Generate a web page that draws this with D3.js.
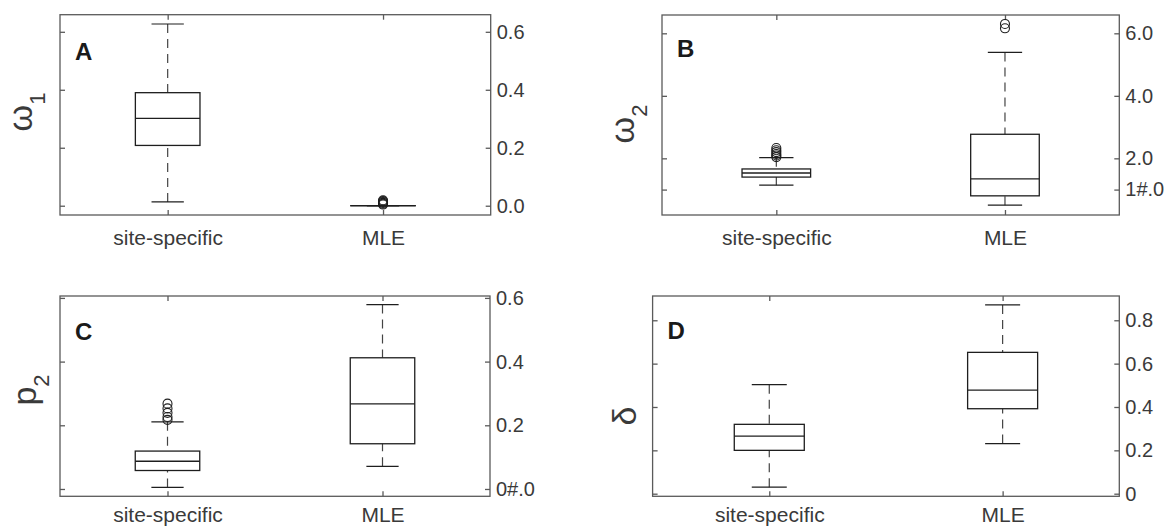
<!DOCTYPE html>
<html>
<head>
<meta charset="utf-8">
<script src="https://cdn.jsdelivr.net/npm/d3@7"></script>
<style>
    body { margin: 0; background: #fff; }
    text { font-family: "Liberation Sans", Arial, Helvetica, sans-serif; }
</style>
</head>
<body>
<div id="chart"></div>
<script>
// 类别
var categories = ["site-specific", "MLE"];

// 每个类别: [下须, Q1, 中位数, Q3, 上须]
var omega1Box = [[0.013, 0.208, 0.301, 0.390, 0.627], [0, 0, 0, 0, 0]];
var omega1Outliers = [[], [0.004, 0.007, 0.010, 0.013, 0.016, 0.019]];
var omega1Ticks = [0, 0.2, 0.4, 0.6];
var omega1TickLabels = ["0.0", "0.2", "0.4", "0.6"];
var omega1Limits = [-0.032, 0.659];

var omega2Box = [[1.14, 1.40, 1.53, 1.66, 2.02], [0.50, 0.80, 1.34, 2.77, 5.39]];
var omega2Outliers = [[2.04, 2.09, 2.14, 2.20, 2.26, 2.33], [6.16, 6.30]];
var omega2Ticks = [1, 2, 4, 6];
var omega2TickLabels = ["1#.0", "2.0", "4.0", "6.0"];
var omega2Limits = [0.187, 6.586];

var p2Box = [[0.005, 0.058, 0.087, 0.119, 0.211], [0.071, 0.142, 0.267, 0.412, 0.579]];
var p2Outliers = [[0.217, 0.226, 0.239, 0.253, 0.268], []];
var p2Ticks = [0, 0.2, 0.4, 0.6];
var p2TickLabels = ["0#.0", "0.2", "0.4", "0.6"];
var p2Limits = [-0.023, 0.606];

var deltaBox = [[0.030, 0.200, 0.266, 0.320, 0.503], [0.231, 0.392, 0.478, 0.652, 0.871]];
var deltaOutliers = [[], []];
var deltaTicks = [0, 0.2, 0.4, 0.6, 0.8];
var deltaTickLabels = ["0", "0.2", "0.4", "0.6", "0.8"];
var deltaLimits = [-0.012, 0.912];

var frameColor = "#5a5a5a";
var boxColor = "#1e1e1e";
var textColor = "#3a3a3a";

var svg = d3.select("#chart")
    .append("svg")
    .attr("width", 1172)
    .attr("height", 527);

function drawPanel(p) {
    var g = svg.append("g");

    var x = d3.scalePoint()
        .domain(categories)
        .range([p.left, p.right])
        .padding(0.5);

    var y = d3.scaleLinear()
        .domain(p.limits)
        .range([p.bottom, p.top]);

    var boxW = (p.right - p.left) * 0.15;
    var capW = boxW / 2;

    // 坐标框
    g.append("rect")
        .attr("x", p.left)
        .attr("y", p.top)
        .attr("width", p.right - p.left)
        .attr("height", p.bottom - p.top)
        .style("fill", "none")
        .style("stroke", frameColor)
        .style("stroke-width", "1.3px");

    var tickLabel = function (d) {
        return p.tickLabels[p.ticks.indexOf(d)];
    };

    // 右侧刻度带标签, 左侧只有刻度
    var yRight = d3.axisRight(y).tickValues(p.ticks).tickSize(-5).tickPadding(6).tickFormat(tickLabel);
    var yLeft = d3.axisLeft(y).tickValues(p.ticks).tickSize(-5).tickFormat("");
    var xBottom = d3.axisBottom(x).tickSize(-5).tickPadding(p.labelPad);
    var xTop = d3.axisTop(x).tickSize(-5).tickFormat("");

    var axes = [
        [yRight, "translate(" + p.right + ",0)"],
        [yLeft, "translate(" + p.left + ",0)"],
        [xBottom, "translate(0," + p.bottom + ")"],
        [xTop, "translate(0," + p.top + ")"]
    ];
    axes.forEach(function (a, i) {
        var ax = g.append("g")
            .attr("transform", a[1])
            .call(a[0]);
        ax.select(".domain").remove();
        ax.selectAll("line").style("stroke", frameColor).style("stroke-width", "1.3px");
        ax.selectAll("text")
            .style("font-family", "'Liberation Sans', Arial, sans-serif")
            .style("font-size", i === 2 ? "21px" : "20px")
            .style("fill", textColor);
    });

    // 箱线图
    var boxes = g.selectAll("g.box")
        .data(p.box)
        .enter()
        .append("g")
        .attr("class", "box");

    // 须线 (虚线)
    boxes.append("line")
        .attr("x1", function (d, i) { return x(categories[i]); })
        .attr("x2", function (d, i) { return x(categories[i]); })
        .attr("y1", function (d) { return y(d[4]); })
        .attr("y2", function (d) { return y(d[3]); })
        .style("stroke", "#444")
        .style("stroke-width", "1.2px")
        .style("stroke-dasharray", "9,6");
    boxes.append("line")
        .attr("x1", function (d, i) { return x(categories[i]); })
        .attr("x2", function (d, i) { return x(categories[i]); })
        .attr("y1", function (d) { return y(d[0]); })
        .attr("y2", function (d) { return y(d[1]); })
        .style("stroke", "#444")
        .style("stroke-width", "1.2px")
        .style("stroke-dasharray", "9,6");

    // 须端横线
    [0, 4].forEach(function (k) {
        boxes.append("line")
            .attr("x1", function (d, i) { return x(categories[i]) - capW / 2; })
            .attr("x2", function (d, i) { return x(categories[i]) + capW / 2; })
            .attr("y1", function (d) { return y(d[k]); })
            .attr("y2", function (d) { return y(d[k]); })
            .style("stroke", boxColor)
            .style("stroke-width", "1.2px");
    });

    // 箱体
    boxes.append("rect")
        .attr("x", function (d, i) { return x(categories[i]) - boxW / 2; })
        .attr("y", function (d) { return y(d[3]); })
        .attr("width", boxW)
        .attr("height", function (d) { return Math.max(y(d[1]) - y(d[3]), 0.01); })
        .style("fill", "none")
        .style("stroke", boxColor)
        .style("stroke-width", "1.3px");

    // 中位数
    boxes.append("line")
        .attr("x1", function (d, i) { return x(categories[i]) - boxW / 2; })
        .attr("x2", function (d, i) { return x(categories[i]) + boxW / 2; })
        .attr("y1", function (d) { return y(d[2]); })
        .attr("y2", function (d) { return y(d[2]); })
        .style("stroke", boxColor)
        .style("stroke-width", "1.3px");

    // 离群点
    p.outliers.forEach(function (list, i) {
        g.selectAll("circle.o" + i)
            .data(list)
            .enter()
            .append("circle")
            .attr("class", "o" + i)
            .attr("cx", x(categories[i]))
            .attr("cy", function (d) { return y(d); })
            .attr("r", 4.5)
            .style("fill", "none")
            .style("stroke", boxColor)
            .style("stroke-width", "1.1px");
    });

    // 面板字母
    g.append("text")
        .attr("x", p.left + 15)
        .attr("y", p.top + p.letterDy)
        .text(p.letter)
        .style("font-size", "24px")
        .style("font-weight", "bold")
        .style("fill", "#1a1a1a");

    // y 轴标题 (竖排)
    var lab = g.append("text")
        .attr("transform", "translate(" + p.labelX + "," + p.labelY + ") rotate(-90)")
        .attr("text-anchor", "middle")
        .style("font-size", "34px")
        .style("fill", textColor);
    lab.append("tspan").text(p.label);
    if (p.sub) {
        lab.append("tspan")
            .attr("dy", 13)
            .style("font-size", "22px")
            .text(p.sub);
    }
}

drawPanel({
    left: 60, right: 490.7, top: 14.7, bottom: 215, labelPad: 15,
    limits: omega1Limits, ticks: omega1Ticks, tickLabels: omega1TickLabels,
    box: omega1Box, outliers: omega1Outliers,
    letter: "A", letterDy: 45, label: "ω", sub: "1", labelX: 32, labelY: 112
});
drawPanel({
    left: 662, right: 1119.3, top: 15, bottom: 215, labelPad: 15,
    limits: omega2Limits, ticks: omega2Ticks, tickLabels: omega2TickLabels,
    box: omega2Box, outliers: omega2Outliers,
    letter: "B", letterDy: 42, label: "ω", sub: "2", labelX: 634, labelY: 124
});
drawPanel({
    left: 60, right: 490, top: 296, bottom: 496.3, labelPad: 11,
    limits: p2Limits, ticks: p2Ticks, tickLabels: p2TickLabels,
    box: p2Box, outliers: p2Outliers,
    letter: "C", letterDy: 44, label: "p", sub: "2", labelX: 36, labelY: 390
});
drawPanel({
    left: 652.6, right: 1119.3, top: 296, bottom: 496.3, labelPad: 11,
    limits: deltaLimits, ticks: deltaTicks, tickLabels: deltaTickLabels,
    box: deltaBox, outliers: deltaOutliers,
    letter: "D", letterDy: 43, label: "δ", sub: null, labelX: 636, labelY: 416
});
</script>
</body>
</html>
